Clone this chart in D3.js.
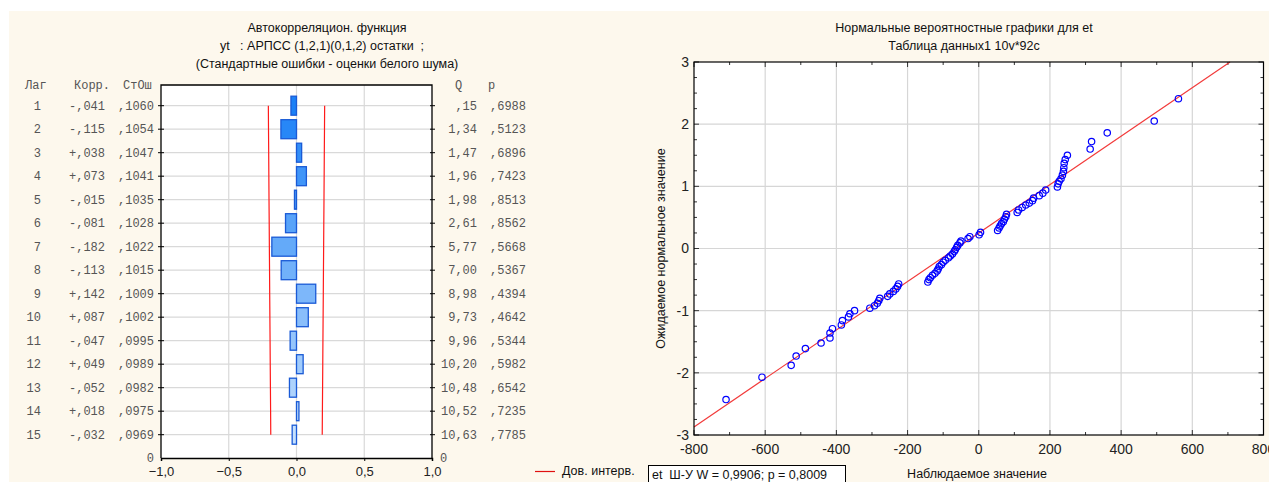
<!DOCTYPE html>
<html><head><meta charset="utf-8">
<script src="https://cdn.jsdelivr.net/npm/d3@7/dist/d3.min.js"></script>
<style>body{margin:0;background:#fff;}svg{display:block;}text{white-space:pre;}</style>
</head><body>
<svg id="c" width="1269" height="482"></svg>
<script>
// ---------- Data: autocorrelation panel ----------
const lags = [1,2,3,4,5,6,7,8,9,10,11,12,13,14,15];
const corr = [-0.041,-0.115,0.038,0.073,-0.015,-0.081,-0.182,-0.113,0.142,0.087,-0.047,0.049,-0.052,0.018,-0.032];
const stErr = [0.1060,0.1054,0.1047,0.1041,0.1035,0.1028,0.1022,0.1015,0.1009,0.1002,0.0995,0.0989,0.0982,0.0975,0.0969];
const qStat = [0.15,1.34,1.47,1.96,1.98,2.61,5.77,7.00,8.98,9.73,9.96,10.20,10.48,10.52,10.63];
const pVal = [0.6988,0.5123,0.6896,0.7423,0.8513,0.8562,0.5668,0.5367,0.4394,0.4642,0.5344,0.5982,0.6542,0.7235,0.7785];
const acfTicks = [-1,-0.5,0,0.5,1];
const acfTitle = ["Автокорреляцион. функция","yt   : АРПСС (1,2,1)(0,1,2) остатки  ;","(Стандартные ошибки - оценки белого шума)"];
const acfHeaders = ["Лаг","Корр.","СтОш","Q","p"];
const legendLabel = "Дов. интерв.";

// ---------- Data: normal probability plot ----------
const obsX = [-710,-609,-527,-513,-487,-443,-418,-418,-411,-386,-383,-366,-362,-349,-306,-293,-285,-281,-278,-256,-250,-240,-233,-228,-225,
  -143,-140,-136,-130,-123,-117,-114,-111,-105,-100,-94,-85,-80,-74,-69,-66,-62,-59,-53,-50,-30,-25,1,5,
  53,57,60,64,69,72,76,78,108,112,122,132,142,151,154,170,180,188,221,223,226,231,235,238,239,240,243,249,313,317,361,493,561];
const expY = [-2.43,-2.07,-1.88,-1.73,-1.61,-1.52,-1.44,-1.36,-1.29,-1.23,-1.16,-1.10,-1.05,-1.00,-0.96,-0.92,-0.88,-0.84,-0.80,-0.77,-0.73,-0.69,-0.65,-0.61,-0.57,
  -0.54,-0.50,-0.47,-0.43,-0.40,-0.36,-0.33,-0.29,-0.26,-0.22,-0.19,-0.15,-0.12,-0.09,-0.05,-0.02,0.02,0.05,0.09,0.12,0.16,0.19,0.22,0.26,
  0.29,0.33,0.36,0.40,0.43,0.47,0.51,0.55,0.58,0.62,0.66,0.70,0.73,0.77,0.81,0.85,0.89,0.94,0.99,1.04,1.08,1.12,1.18,1.24,1.30,1.37,1.43,1.50,1.60,1.72,1.86,2.05,2.41];
const fitX = [-800, 706];
const fitY = [-2.87, 3];
const npXTicks = [-800,-600,-400,-200,0,200,400,600,800];
const npYTicks = [-3,-2,-1,0,1,2,3];
const npTitle = ["Нормальные вероятностные графики для et","Таблица данных1 10v*92c"];
const npXLabel = "Наблюдаемое значение";
const npYLabel = "Ожидаемое нормальное значение";
const statText = "et  Ш-У W = 0,9906; p = 0,8009";

// ---------- Drawing ----------
const svg = d3.select("#c");
const SANS = "'Liberation Sans', Arial, sans-serif";
const MONO = "'Liberation Mono', 'Courier New', monospace";
svg.append("rect").attr("x",9).attr("y",11).attr("width",1260).attr("height",471).attr("fill","#fdf8ed");

// ===== Left panel =====
const L = {x0:161, x1:432, y0:85, y1:458};
const xA = d3.scaleLinear().domain([-1,1]).range([L.x0, L.x1]);
const yA = d3.scaleLinear().domain([1,15]).range([105.7, 434.7]);
const gA = svg.append("g");
gA.append("rect").attr("x",L.x0).attr("y",L.y0).attr("width",L.x1-L.x0).attr("height",L.y1-L.y0).attr("fill","#fff");
// grid
gA.selectAll("line.hg").data(lags).join("line")
  .attr("x1",L.x0).attr("x2",L.x1).attr("y1",d=>yA(d)).attr("y2",d=>yA(d))
  .attr("stroke","#d9d9d9").attr("stroke-width",1.2);
gA.selectAll("line.vg").data([-0.5,0,0.5]).join("line")
  .attr("x1",d=>xA(d)).attr("x2",d=>xA(d)).attr("y1",L.y0).attr("y2",L.y1)
  .attr("stroke","#d9d9d9").attr("stroke-width",1.2);
// bars
const fillC = d3.scaleLinear().domain([1,15]).range(["#1b80f6","#c6e1fd"]).interpolate(d3.interpolateRgb);
const barH = 19;
gA.selectAll("rect.bar").data(lags).join("rect")
  .attr("x",(d,i)=>Math.min(xA(corr[i]),xA(0)))
  .attr("y",d=>yA(d)-barH/2)
  .attr("width",(d,i)=>Math.abs(xA(corr[i])-xA(0)))
  .attr("height",barH)
  .attr("fill",d=>fillC(d)).attr("stroke","#1a5ad6").attr("stroke-width",1.3);
// confidence limits
const ciLine = d3.line().x(d=>xA(d[0])).y(d=>yA(d[1]));
[1,-1].forEach(s=>{
  gA.append("path").attr("d",ciLine(lags.map((l,i)=>[s*1.96*stErr[i],l])))
    .attr("fill","none").attr("stroke","#ff1a1a").attr("stroke-width",1.2);
});
// frame
gA.append("path").attr("d",`M${L.x0},${L.y1}V${L.y0}H${L.x1}V${L.y1}`).attr("fill","none").attr("stroke","#000").attr("stroke-width",1.3);
// row ticks
gA.selectAll("line.lt").data(lags).join("line").attr("x1",L.x0-3).attr("x2",L.x0+3).attr("y1",d=>yA(d)).attr("y2",d=>yA(d)).attr("stroke","#000");
gA.selectAll("line.rt").data(lags).join("line").attr("x1",L.x1-2).attr("x2",L.x1+3).attr("y1",d=>yA(d)).attr("y2",d=>yA(d)).attr("stroke","#000");
// bottom axis
const axA = gA.append("g").attr("transform",`translate(0,${L.y1})`)
  .call(d3.axisBottom(xA).tickValues(acfTicks).tickSize(3).tickFormat(d=>d3.format(".1f")(d).replace(".",",")));
axA.select(".domain").attr("stroke","#000").attr("stroke-width",1.5);
axA.selectAll("text").attr("font-family",SANS).attr("font-size",13).attr("fill","#222").attr("dy","0.9em");
// titles
acfTitle.forEach((t,i)=>{
  gA.append("text").attr("x",[327,322,327][i]).attr("y",28+i*18).attr("dy","0.35em").attr("text-anchor","middle")
    .attr("font-family",SANS).attr("font-size",12.5).attr("fill","#111").text(t);
});
// table
const mono = (sel)=>sel.attr("font-family",MONO).attr("font-size",12).attr("fill","#555").attr("dy","0.35em");
const hdrX = [25,74,123,455,488];
acfHeaders.forEach((h,i)=>{ mono(gA.append("text").attr("x",hdrX[i]).attr("y",85).text(h)); });
const fCorr = v=>(v<0?"-":"+")+","+d3.format("03d")(Math.round(Math.abs(v)*1000));
const fSE = v=>","+d3.format("04d")(Math.round(v*10000));
const fQ = v=>{const s=d3.format(".2f")(v).replace(".",","); return s.startsWith("0")?s.slice(1):s;};
const cols = [
  {x:41, f:(l,i)=>String(l)},
  {x:105, f:(l,i)=>fCorr(corr[i])},
  {x:154, f:(l,i)=>fSE(stErr[i])},
  {x:477, f:(l,i)=>fQ(qStat[i])},
  {x:526, f:(l,i)=>fSE(pVal[i])}
];
cols.forEach(c=>{
  gA.selectAll(null).data(lags).join("text").attr("x",c.x).attr("y",d=>yA(d)).attr("text-anchor","end")
    .call(mono).text((d,i)=>c.f(d,i));
});
mono(gA.append("text").attr("x",154).attr("y",L.y1).attr("text-anchor","end").text("0"));
mono(gA.append("text").attr("x",440).attr("y",L.y1).text("0"));
// legend
gA.append("line").attr("x1",535).attr("x2",555).attr("y1",471.5).attr("y2",471.5).attr("stroke","#e01010").attr("stroke-width",1.2);
gA.append("text").attr("x",562).attr("y",471).attr("dy","0.35em").attr("font-family",SANS).attr("font-size",12.5).attr("fill","#111").text(legendLabel);

// ===== Right panel =====
const R = {x0:694, x1:1263.5, y0:62, y1:435};
const xN = d3.scaleLinear().domain([-800,800]).range([R.x0,R.x1]);
const yN = d3.scaleLinear().domain([-3,3]).range([R.y1,R.y0]);
const gN = svg.append("g");
gN.append("rect").attr("x",R.x0).attr("y",R.y0).attr("width",R.x1-R.x0).attr("height",R.y1-R.y0).attr("fill","#fff");
gN.selectAll("line.vg").data(npXTicks.slice(1,-1)).join("line").attr("x1",d=>xN(d)).attr("x2",d=>xN(d)).attr("y1",R.y0).attr("y2",R.y1).attr("stroke","#d6d6d6").attr("stroke-width",1.2);
gN.selectAll("line.hg").data(npYTicks.slice(1,-1)).join("line").attr("y1",d=>yN(d)).attr("y2",d=>yN(d)).attr("x1",R.x0).attr("x2",R.x1).attr("stroke","#d6d6d6").attr("stroke-width",1.2);
// minor / major ticks (inside)
const xMinor = d3.range(-800,801,100), yMinor = d3.range(-3,3.001,0.25);
const tk = gN.append("g").attr("stroke","#333").attr("stroke-width",1);
xMinor.forEach(v=>{
  const len = (v%200===0)?5:3;
  tk.append("line").attr("x1",xN(v)).attr("x2",xN(v)).attr("y1",R.y0).attr("y2",R.y0+len);
  tk.append("line").attr("x1",xN(v)).attr("x2",xN(v)).attr("y1",R.y1).attr("y2",R.y1-len);
});
yMinor.forEach(v=>{
  const len = (Math.abs(v-Math.round(v))<1e-9)?5:3;
  tk.append("line").attr("y1",yN(v)).attr("y2",yN(v)).attr("x1",R.x1).attr("x2",R.x1-len);
  tk.append("line").attr("y1",yN(v)).attr("y2",yN(v)).attr("x1",R.x0).attr("x2",R.x0+len);
});
// fit line
gN.append("line").attr("x1",xN(fitX[0])).attr("y1",yN(fitY[0])).attr("x2",xN(fitX[1])).attr("y2",yN(fitY[1]))
  .attr("stroke","#f23a3a").attr("stroke-width",1.2);
// points
gN.selectAll("circle").data(obsX).join("circle").attr("cx",d=>xN(d)).attr("cy",(d,i)=>yN(expY[i])).attr("r",3.2)
  .attr("fill","none").attr("stroke","#0000ff").attr("stroke-width",1.2);
// border
gN.append("rect").attr("x",R.x0).attr("y",R.y0).attr("width",R.x1-R.x0).attr("height",R.y1-R.y0).attr("fill","none").attr("stroke","#000").attr("stroke-width",1.2);
// tick labels
gN.selectAll("text.xl").data(npXTicks).join("text").attr("x",d=>xN(d)).attr("y",R.y1+14).attr("dy","0.35em").attr("text-anchor","middle")
  .attr("font-family",SANS).attr("font-size",14).attr("fill","#222").text(d=>d);
gN.selectAll("text.yl").data(npYTicks).join("text").attr("x",R.x0-5).attr("y",d=>yN(d)).attr("dy","0.35em").attr("text-anchor","end")
  .attr("font-family",SANS).attr("font-size",14).attr("fill","#222").text(d=>d);
npTitle.forEach((t,i)=>{
  gN.append("text").attr("x",964).attr("y",28+i*18).attr("dy","0.35em").attr("text-anchor","middle")
    .attr("font-family",SANS).attr("font-size",12.5).attr("fill","#111").text(t);
});
gN.append("text").attr("x",977).attr("y",474).attr("dy","0.35em").attr("text-anchor","middle").attr("font-family",SANS).attr("font-size",12.5).attr("fill","#111").text(npXLabel);
gN.append("text").attr("transform",`translate(661,${(R.y0+R.y1)/2}) rotate(-90)`).attr("dy","0.35em").attr("text-anchor","middle").attr("font-family",SANS).attr("font-size",12.5).attr("fill","#111").text(npYLabel);
// stat box
gN.append("rect").attr("x",648.5).attr("y",465.5).attr("width",197).attr("height",20).attr("fill","#fff").attr("stroke","#000").attr("stroke-width",1);
gN.append("text").attr("x",652).attr("y",475).attr("dy","0.35em").attr("font-family",SANS).attr("font-size",12.5).attr("fill","#111").text(statText);
</script>
</body></html>
